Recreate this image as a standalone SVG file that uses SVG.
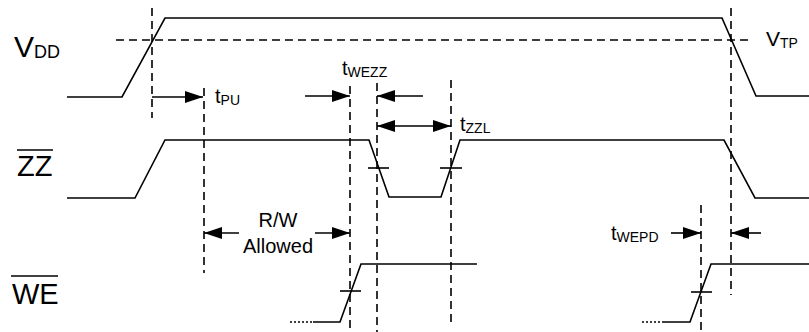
<svg xmlns="http://www.w3.org/2000/svg" width="809" height="332" viewBox="0 0 809 332">
<style>
.sig{fill:none;stroke:#000;stroke-width:1.6}
.dash{fill:none;stroke:#000;stroke-width:1.6;stroke-dasharray:8 5}
.dot{fill:none;stroke:#000;stroke-width:1.6;stroke-dasharray:2 2}
.arr{fill:none;stroke:#000;stroke-width:1.6}
.t{font-family:"Liberation Sans",Arial,sans-serif;fill:#000}
</style>
<defs>
<marker id="ah" viewBox="0 0 18 12" refX="18" refY="6" markerWidth="18" markerHeight="12" markerUnits="userSpaceOnUse" orient="auto-start-reverse">
<path d="M0,0 L18,6 L0,12 Z" fill="#000"/>
</marker>
</defs>
<rect width="809" height="332" fill="#fff"/>
<g id="connectors">
<line class="dash" x1="116" y1="40" x2="752" y2="40"/>
<line class="dash" x1="152" y1="8" x2="152" y2="118"/>
<line class="dash" x1="204" y1="88" x2="204" y2="273"/>
<line class="dash" x1="350" y1="86" x2="350" y2="332"/>
<line class="dash" x1="377" y1="83" x2="377" y2="332"/>
<line class="dash" x1="451" y1="80" x2="451" y2="324"/>
<line class="dash" x1="701" y1="205" x2="701" y2="332"/>
<line class="dash" x1="731" y1="8" x2="731" y2="295"/>
<line class="arr" x1="152" y1="97" x2="203" y2="97" marker-end="url(#ah)"/>
<line class="arr" x1="305" y1="96" x2="350" y2="96" marker-end="url(#ah)"/>
<line class="arr" x1="423" y1="96" x2="377" y2="96" marker-end="url(#ah)"/>
<line class="arr" x1="377" y1="126" x2="451" y2="126" marker-start="url(#ah)" marker-end="url(#ah)"/>
<line class="arr" x1="239" y1="233" x2="204" y2="233" marker-end="url(#ah)"/>
<line class="arr" x1="315" y1="233" x2="350" y2="233" marker-end="url(#ah)"/>
<line class="arr" x1="671" y1="233" x2="701" y2="233" marker-end="url(#ah)"/>
<line class="arr" x1="761" y1="233" x2="731" y2="233" marker-end="url(#ah)"/>
</g>
<g id="vdd">
<polyline class="sig" points="67,97 122,97 165,18 722,18 756,96 809,96"/>
<text class="t" x="14" y="57" font-size="30">V<tspan font-size="18" dy="1">DD</tspan></text>
<text class="t" x="766" y="46" font-size="21">V<tspan font-size="14" dy="2">TP</tspan></text>
</g>
<g id="zz">
<polyline class="sig" points="67,198 135,198 165,140 369,140 389,197 441,197 460,140 724,140 755,198 809,198"/>
<line class="sig" x1="368" y1="168" x2="389" y2="168"/>
<line class="sig" x1="440" y1="168" x2="462" y2="168"/>
<text class="t" x="17" y="176" font-size="29">ZZ</text>
<line class="sig" x1="17" y1="150" x2="53" y2="150"/>
</g>
<g id="we">
<line class="dot" x1="290" y1="322" x2="313" y2="322"/>
<polyline class="sig" points="313,322 340,322 361,264 477,264"/>
<line class="sig" x1="340" y1="291" x2="361" y2="291"/>
<line class="dot" x1="642" y1="322" x2="664" y2="322"/>
<polyline class="sig" points="664,322 690,322 711,264 809,264"/>
<line class="sig" x1="691" y1="292" x2="712" y2="292"/>
<text class="t" x="12" y="304" font-size="29">WE</text>
<line class="sig" x1="11" y1="276" x2="58" y2="276"/>
</g>
<g id="labels">
<text class="t" x="215" y="103" font-size="20">t<tspan font-size="14" dy="2">PU</tspan></text>
<text class="t" x="342" y="75" font-size="20">t<tspan font-size="14" dy="2">WEZZ</tspan></text>
<text class="t" x="460" y="131" font-size="20">t<tspan font-size="14" dy="2">ZZL</tspan></text>
<text class="t" x="611" y="240" font-size="20">t<tspan font-size="14" dy="2">WEPD</tspan></text>
<text class="t" x="278" y="227" font-size="20" text-anchor="middle">R/W</text>
<text class="t" x="278" y="253" font-size="20" text-anchor="middle">Allowed</text>
</g>
</svg>
